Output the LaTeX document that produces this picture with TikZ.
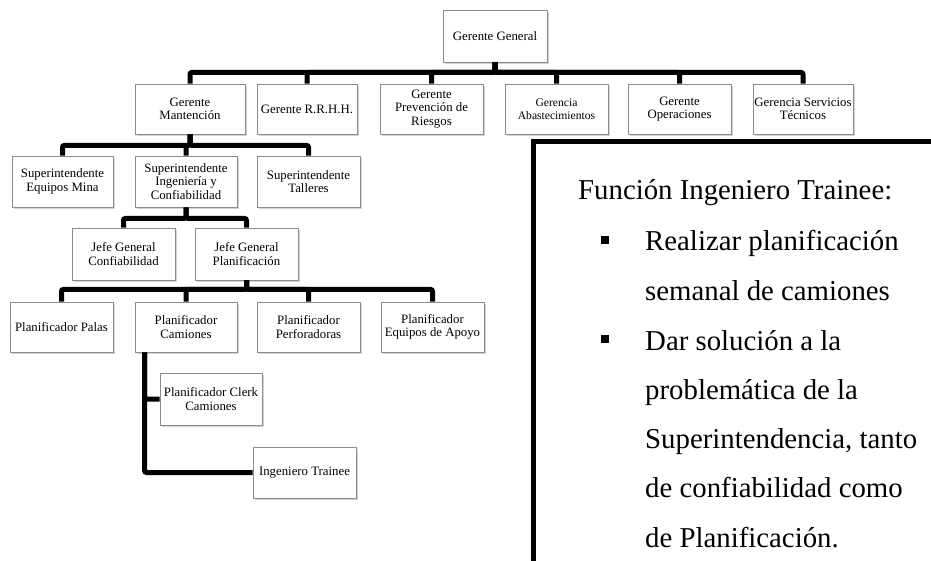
\documentclass[tikz,border=0pt]{standalone}
\usepackage{fontspec}
\setmainfont{Liberation Serif}
\usetikzlibrary{shadows}
\newcommand{\boxFont}[0]{\fontsize{12.8}{13.3}\selectfont}
\newcommand{\smallBoxFont}[0]{\fontsize{11.6}{13.3}\selectfont}
\newcommand{\bigFont}[0]{\fontsize{28.8}{49.2}\selectfont}
\newcommand{\linkWidth}[0]{5pt}
\newcommand{\bulletSquare}[0]{\llap{\raisebox{7pt}{\rule{8pt}{8pt}}\hspace{36pt}}}
\definecolor{boxgray}{HTML}{8C8C8C}

\begin{document}
\begin{tikzpicture}[x=1pt, y=-1pt]
  \tikzset{cargo/.style={draw=boxgray, line width=0.8pt, fill=white, align=center, font=\boxFont,
      inner sep=0pt, minimum width=103pt, minimum height=51pt,
      drop shadow={shadow xshift=1.5pt, shadow yshift=-2pt, opacity=0.35}}}
  \tikzset{link/.style={line width=\linkWidth, rounded corners=2pt}}
  \tikzset{texto/.style={font=\bigFont, align=left, anchor=base west, inner sep=0pt}}
  \useasboundingbox (0,0) rectangle (931,560);
  \node[cargo, minimum width=104pt, minimum height=52pt] (GG) at (495,36) {Gerente General};
  \node[cargo, minimum width=110pt, minimum height=50pt] (G-1) at (190,109) {Gerente\\Mantención};
  \node[cargo, minimum width=100pt, minimum height=50pt] (G-2) at (307,109) {Gerente R.R.H.H.};
  \node[cargo, minimum height=50pt] (G-3) at (431.5,109) {Gerente\\Prevención de\\Riesgos};
  \node[cargo, minimum height=50pt, font=\smallBoxFont] (G-4) at (556.5,109) {Gerencia\\Abastecimientos};
  \node[cargo, minimum height=50pt] (G-5) at (679.5,109) {Gerente\\Operaciones};
  \node[cargo, minimum width=100pt, minimum height=50pt] (G-6) at (803,109) {Gerencia Servicios\\Técnicos};
  \node[cargo, minimum width=101pt] (S-1) at (62.5,181.5) {Superintendente\\Equipos Mina};
  \node[cargo, minimum width=102pt] (S-2) at (186,181.5) {Superintendente\\Ingeniería y\\Confiabilidad};
  \node[cargo] (S-3) at (308.5,181.5) {Superintendente\\Talleres};
  \node[cargo, minimum height=52pt] (J-1) at (123.5,254) {Jefe General\\Confiabilidad};
  \node[cargo, minimum height=52pt] (J-2) at (246.5,254) {Jefe General\\Planificación};
  \node[cargo, minimum height=50pt] (P-1) at (61.5,327) {Planificador Palas};
  \node[cargo, minimum width=102pt, minimum height=50pt] (P-2) at (186,327) {Planificador\\Camiones};
  \node[cargo, minimum height=50pt] (P-3) at (308.5,327) {Planificador\\Perforadoras};
  \node[cargo, minimum height=50pt] (P-4) at (432.5,327) {Planificador\\Equipos de Apoyo};
  \node[cargo, minimum width=102pt, minimum height=52pt] (PC-1) at (211,399) {Planificador Clerk\\Camiones};
  \node[cargo] (IT-1) at (304.5,472.5) {Ingeniero Trainee};
  \draw[link] (GG.south) -- ++(0,10) -| (G-1.north);
  \draw[link] (GG.south) -- ++(0,10) -| (G-2.north);
  \draw[link] (GG.south) -- ++(0,10) -| (G-3.north);
  \draw[link] (GG.south) -- ++(0,10) -| (G-4.north);
  \draw[link] (GG.south) -- ++(0,10) -| (G-5.north);
  \draw[link] (GG.south) -- ++(0,10) -| (G-6.north);
  \draw[link] (G-1.south) -- ++(0,11) -| (S-1.north);
  \draw[link] (G-1.south) -- ++(0,11) -| (S-2.north);
  \draw[link] (G-1.south) -- ++(0,11) -| (S-3.north);
  \draw[link] (S-2.south) -- ++(0,11) -| (J-1.north);
  \draw[link] (S-2.south) -- ++(0,11) -| (J-2.north);
  \draw[link] (J-2.south) -- ++(0,9) -| (P-1.north);
  \draw[link] (J-2.south) -- ++(0,9) -| (P-2.north);
  \draw[link] (J-2.south) -- ++(0,9) -| (P-3.north);
  \draw[link] (J-2.south) -- ++(0,9) -| (P-4.north);
  \draw[link] ([xshift=10pt]P-2.south west) |- (PC-1.west);
  \draw[link] ([xshift=10pt]P-2.south west) |- (IT-1.west);
  \node[draw, line width=5pt, anchor=north west, inner sep=0pt, minimum width=440pt, minimum height=460pt] (F-1) at (530.5,138.5) {};
  \node[texto] (T-1) at (578,199) {Función Ingeniero Trainee:};
  \node[texto] (I-1) at (645,300) {\bulletSquare Realizar planificación\\semanal de camiones};
  \node[texto] (I-2) at (645,547) {\bulletSquare Dar solución a la\\problemática de la\\Superintendencia, tanto\\de confiabilidad como\\de Planificación.};
\end{tikzpicture}
\end{document}
